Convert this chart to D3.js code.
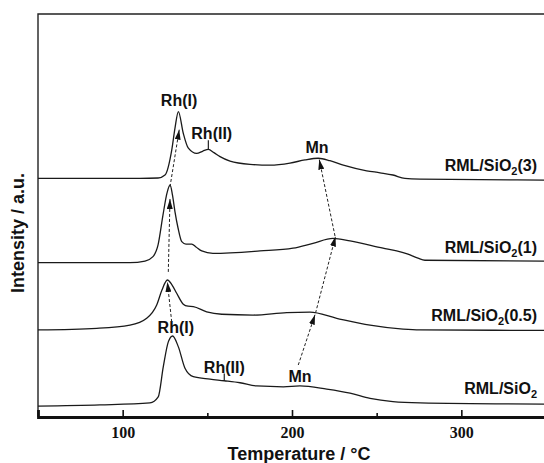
<!DOCTYPE html>
<html>
<head>
<meta charset="utf-8">
<script src="https://cdn.jsdelivr.net/npm/d3@7"></script>
<style>
  body { margin: 0; background: #fff; }
  text { font-family: "Liberation Sans", Arial, sans-serif; font-weight: bold; fill: #111; }
</style>
</head>
<body>
<script>
// TPR curves, [temperature (°C), intensity (a.u., stacked)]
const sio2 = [[50,2.7],[86.6,3.0],[116.1,3.5],[121,5.0],[124,12.5],[127,18.7],[129.5,20.1],[132.9,17.4],
  [136.8,12.1],[141.7,10.0],[151.6,9.4],[160,9.0],[169.3,8.5],[179.2,7.7],[194.9,7.5],[204.7,7.7],
  [220.5,6.9],[234.3,5.9],[246.1,4.6],[259.6,3.8],[275.6,3.5],[350,3.2]];

const sio2_05 = [[50,21.6],[84.7,22.0],[104.3,22.8],[114.2,24.5],[120.1,27.8],[123.2,31.5],[126.4,34.0],
  [129.1,32.8],[131.9,30.7],[135.8,28.0],[138.6,27.5],[141.7,27.4],[149.6,26.1],[158.5,25.5],[177,25.3],
  [196.9,25.9],[210.6,26.0],[226.4,24.5],[246.1,22.8],[265.6,21.8],[275.6,21.6],[350,21.5]];

const sio2_1 = [[50,38.3],[104.3,38.3],[113.2,38.7],[117.9,39.8],[120.9,42.7],[123.8,50.1],[126.2,55.6],
  [128,57.6],[129.4,55.1],[130.9,50.9],[132.7,46.9],[134.9,43.5],[137.4,42.9],[140.8,42.9],[143.3,42.2],
  [146.7,41.2],[153.3,40.6],[181.1,41.2],[200.6,41.9],[212.4,43.1],[224.2,44.3],[234.3,43.7],[253.8,41.9],
  [261.8,41.2],[268.5,40.4],[274.4,39.4],[278.5,38.9],[350,38.7]];

const sio2_3 = [[50,59.2],[110.2,59.2],[120.9,59.3],[125,60.05],[129,66.3],[130.9,71.7],[132.9,75.8],
  [135.8,70.4],[138.8,66.7],[143.7,65.4],[147.4,66.0],[150.6,66.4],[153.9,65.6],[157.5,64.6],[163.4,63.5],
  [175.2,62.7],[187,62.5],[198.8,63.0],[207.7,63.8],[215.5,64.2],[222.4,63.6],[230.3,62.5],[244.1,61.1],
  [252,60.6],[259.6,60.05],[266.7,59.2],[275.6,59.05],[350,58.8]];

const curves = [sio2, sio2_05, sio2_1, sio2_3];
const seriesNames = ["", "(0.5)", "(1)", "(3)"];
const seriesLabelY = [5.6, 23.7, 40.6, 61.1];

// peak labels: [text, T, I]
const peakLabels = [["Rh(I)",133.3,77.2],["Rh(II)",152.6,69.0],["Mn",214.8,65.4],
  ["Rh(I)",131.4,20.8],["Rh(II)",160,11.0],["Mn",204.7,8.8]];
const peakTicks = [[150.6,68.7,66.4],[160,10.8,9.0]];

// dashed arrows: [T0, I0, T1, I1]
const arrows = [[128.96,23.6,126.4,33.5],[126.95,36.0,127.95,54.1],[127.95,57.1,133.4,71.3],
  [203.7,12.9,213.6,25.4],[213.9,25.8,225.7,44.8],[225.4,44.9,216.1,63.9]];

const majorTicks = [100, 200, 300];
const minorTicks = [150, 250];

const W = 544, H = 463;
const svg = d3.select("body").append("svg").attr("width", W).attr("height", H);

const x = d3.scaleLinear().domain([50, 350]).range([38, 546]);
const y = d3.scaleLinear().domain([0, 100]).range([417, 14]);

svg.append("defs").append("marker")
  .attr("id", "head")
  .attr("viewBox", "0 0 10 10")
  .attr("preserveAspectRatio", "none")
  .attr("refX", 10).attr("refY", 5)
  .attr("markerWidth", 10).attr("markerHeight", 6)
  .attr("markerUnits", "userSpaceOnUse")
  .attr("orient", "auto")
  .append("path").attr("d", "M0,0L10,5L0,10Z").attr("fill", "#111");

// frame
svg.append("path")
  .attr("d", `M${x(50)},${y(0)}V${y(100)}H${x(350)}V${y(0)}`)
  .attr("fill", "none").attr("stroke", "#222").attr("stroke-width", 1.4);

// bottom axis
const xAxis = d3.axisBottom(x).tickValues(majorTicks).tickSize(-7).tickPadding(10).tickFormat(d3.format("d"));
const gx = svg.append("g").attr("transform", `translate(0,${y(0)})`).call(xAxis);
gx.select(".domain").attr("stroke", "#111").attr("stroke-width", 2.8);
gx.selectAll(".tick line").attr("stroke", "#111").attr("stroke-width", 1.6);
gx.selectAll(".tick text")
  .style("font-family", "'Liberation Serif', 'Times New Roman', serif")
  .style("font-size", "16px").style("font-weight", "bold").attr("fill", "#111");
svg.append("g").attr("transform", `translate(0,${y(0)})`)
  .call(d3.axisBottom(x).tickValues(minorTicks).tickSize(-4).tickFormat(""))
  .call(g => g.select(".domain").remove())
  .selectAll(".tick line").attr("stroke", "#111").attr("stroke-width", 1.6);

// curves
const line = d3.line().x(d => x(d[0])).y(d => y(d[1])).curve(d3.curveMonotoneX);
svg.selectAll("path.curve").data(curves).join("path")
  .attr("class", "curve")
  .attr("d", line)
  .attr("fill", "none").attr("stroke", "#1a1a1a").attr("stroke-width", 1.3);

// series labels
seriesNames.forEach((s, i) => {
  const t = svg.append("text")
    .attr("x", x(344.7)).attr("y", y(seriesLabelY[i]))
    .attr("text-anchor", "end").style("font-size", "16px");
  t.append("tspan").text("RML/SiO");
  t.append("tspan").text("2").style("font-size", "11px").attr("dy", 4);
  if (s) t.append("tspan").text(s).attr("dy", -4);
});

// peak labels and ticks
svg.selectAll("text.peak").data(peakLabels).join("text")
  .attr("class", "peak")
  .attr("x", d => x(d[1])).attr("y", d => y(d[2]))
  .attr("text-anchor", "middle").style("font-size", "16px")
  .text(d => d[0]);
svg.selectAll("line.ptick").data(peakTicks).join("line")
  .attr("class", "ptick")
  .attr("x1", d => x(d[0])).attr("x2", d => x(d[0]))
  .attr("y1", d => y(d[1])).attr("y2", d => y(d[2]))
  .attr("stroke", "#222").attr("stroke-width", 1.2);

// dashed arrows
svg.selectAll("line.arrow").data(arrows).join("line")
  .attr("class", "arrow")
  .attr("x1", d => x(d[0])).attr("y1", d => y(d[1]))
  .attr("x2", d => x(d[2])).attr("y2", d => y(d[3]))
  .attr("stroke", "#222").attr("stroke-width", 1)
  .attr("stroke-dasharray", "3,2")
  .attr("marker-end", "url(#head)");

// axis titles
svg.append("text")
  .attr("x", 299).attr("y", 460)
  .attr("text-anchor", "middle").style("font-size", "18px")
  .text("Temperature / °C");
svg.append("text")
  .attr("transform", "translate(24,233) rotate(-90)")
  .attr("text-anchor", "middle").style("font-size", "18px")
  .text("Intensity / a.u.");
</script>
</body>
</html>
